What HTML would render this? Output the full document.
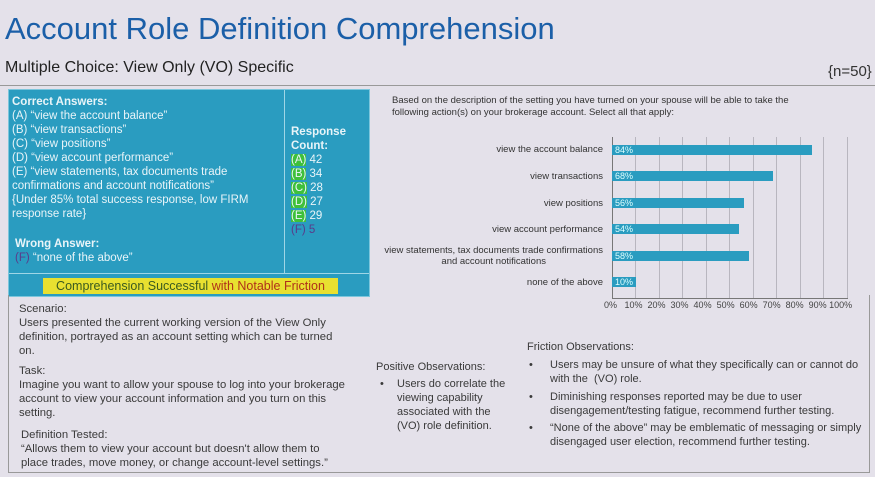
<!DOCTYPE html>
<html><head><meta charset="utf-8"><style>
body{margin:0;width:875px;height:477px;overflow:hidden;background:#e4e1ea;font-family:"Liberation Sans",sans-serif;position:relative}
.a{position:absolute;white-space:nowrap}
#box{position:absolute;left:8px;top:89px;width:360px;height:206px;background:#2a9cc0;border:1px solid #7cc6dc}
#box .t{color:#e8f4f8;font-size:11.5px;line-height:14px}
.g{background:#3fc03a}
.lbl{position:absolute;right:272px;font-size:9.5px;color:#333;text-align:right;white-space:nowrap}
.bar{position:absolute;left:612px;height:10px;background:#2a9cc0;color:#dff;font-size:9px;line-height:10px;padding-left:3px;box-sizing:border-box}
.gl{position:absolute;top:137px;height:162px;width:1px;background:#b8b6bf}
.ft{color:#3a3a3a;font-size:11px;line-height:14px}
</style></head><body>
<div class="a" style="left:5px;top:11px;font-size:31px;color:#1b5fa8">Account Role Definition Comprehension</div>
<div class="a" style="left:5px;top:59px;font-size:16px;color:#222">Multiple Choice: View Only (VO) Specific</div>
<div class="a" style="left:828px;top:63px;font-size:15px;color:#333">{n=50}</div>
<div style="position:absolute;left:0;top:85px;width:875px;height:1px;background:#999"></div>

<div id="box">
<div style="position:absolute;left:275px;top:0;width:1px;height:183px;background:#9fd6e6"></div>
<div style="position:absolute;left:0;top:183px;width:360px;height:1px;background:#9fd6e6"></div>
<div class="a t" style="left:3px;top:5px"><b>Correct Answers:</b><br>(A) “view the account balance”<br>(B) “view transactions”<br>(C) “view positions”<br>(D) “view account performance”<br>(E) “view statements, tax documents trade<br>confirmations and account notifications”<br>{Under 85% total success response, low FIRM<br>response rate}</div>
<div class="a t" style="left:6px;top:147px"><b>Wrong Answer:</b><br><span style="color:#5a3a8a">(F)</span> “none of the above”</div>
<div class="a t" style="left:282px;top:35px"><b>Response<br>Count:</b><br><span class="g">(A)</span> 42<br><span class="g">(B)</span> 34<br><span class="g">(C)</span> 28<br><span class="g">(D)</span> 27<br><span class="g">(E)</span> 29<br><span style="color:#5a3a8a">(F) 5</span></div>
<div class="a" style="left:34px;top:188px;height:16px;width:295px;background:#e8e030;font-size:12.5px;line-height:16px;color:#3a5a20;text-align:center">Comprehension Successful <span style="color:#b0301a">with Notable Friction</span></div>
</div>

<div class="a" style="left:392px;top:95px;font-size:9.5px;line-height:12px;color:#333">Based on the description of the setting you have turned on your spouse will be able to take the<br>following action(s) on your brokerage account. Select all that apply:</div>

<div class="gl" style="left:612px;background:#777"></div>
<div class="gl" style="left:635px"></div><div class="gl" style="left:659px"></div><div class="gl" style="left:682px"></div><div class="gl" style="left:706px"></div><div class="gl" style="left:729px"></div><div class="gl" style="left:753px"></div><div class="gl" style="left:776px"></div><div class="gl" style="left:800px"></div><div class="gl" style="left:823px"></div><div class="gl" style="left:847px"></div>
<div style="position:absolute;left:612px;top:298px;width:236px;height:1px;background:#777"></div>

<div class="lbl" style="top:144px">view the account balance</div>
<div class="lbl" style="top:171px">view transactions</div>
<div class="lbl" style="top:198px">view positions</div>
<div class="lbl" style="top:224px">view account performance</div>
<div class="lbl" style="top:245px;text-align:center;line-height:11px">view statements, tax documents trade confirmations<br>and account notifications</div>
<div class="lbl" style="top:277px">none of the above</div>

<div class="bar" style="top:145px;width:200px">84%</div>
<div class="bar" style="top:171px;width:161px">68%</div>
<div class="bar" style="top:198px;width:132px">56%</div>
<div class="bar" style="top:224px;width:127px">54%</div>
<div class="bar" style="top:251px;width:137px">58%</div>
<div class="bar" style="top:277px;width:24px">10%</div>

<div class="a" style="left:604px;top:300px;font-size:9px;color:#444">0%&nbsp;&nbsp;&nbsp;10%&nbsp;&nbsp;20%&nbsp;&nbsp;30%&nbsp;&nbsp;40%&nbsp;&nbsp;50%&nbsp;&nbsp;60%&nbsp;&nbsp;70%&nbsp;&nbsp;80%&nbsp;&nbsp;90%&nbsp;100%</div>

<div style="position:absolute;left:8px;top:295px;width:860px;height:177px;border:1px solid #999;border-top:none"></div>
<div class="a ft" style="left:19px;top:302px;font-size:11.3px">Scenario:<br>Users presented the current working version of the View Only<br>definition, portrayed as an account setting which can be turned<br>on.</div>
<div class="a ft" style="left:19px;top:364px;font-size:11.3px">Task:<br>Imagine you want to allow your spouse to log into your brokerage<br>account to view your account information and you turn on this<br>setting.</div>
<div class="a ft" style="left:21px;top:428px;font-size:11.3px">Definition Tested:<br>“Allows them to view your account but doesn't allow them to<br>place trades, move money, or change account-level settings.”</div>
<div class="a ft" style="left:376px;top:360px">Positive Observations:</div>
<div class="a ft" style="left:380px;top:377px">•</div>
<div class="a ft" style="left:397px;top:377px">Users do correlate the<br>viewing capability<br>associated with the<br>(VO) role definition.</div>
<div class="a ft" style="left:527px;top:340px">Friction Observations:</div>
<div class="a ft" style="left:529px;top:358px">•</div>
<div class="a ft" style="left:529px;top:390px">•</div>
<div class="a ft" style="left:529px;top:421px">•</div>
<div class="a ft" style="left:550px;top:358px">Users may be unsure of what they specifically can or cannot do<br>with the &nbsp;(VO) role.</div>
<div class="a ft" style="left:550px;top:390px">Diminishing responses reported may be due to user<br>disengagement/testing fatigue, recommend further testing.</div>
<div class="a ft" style="left:550px;top:421px">“None of the above” may be emblematic of messaging or simply<br>disengaged user election, recommend further testing.</div>
</body></html>
